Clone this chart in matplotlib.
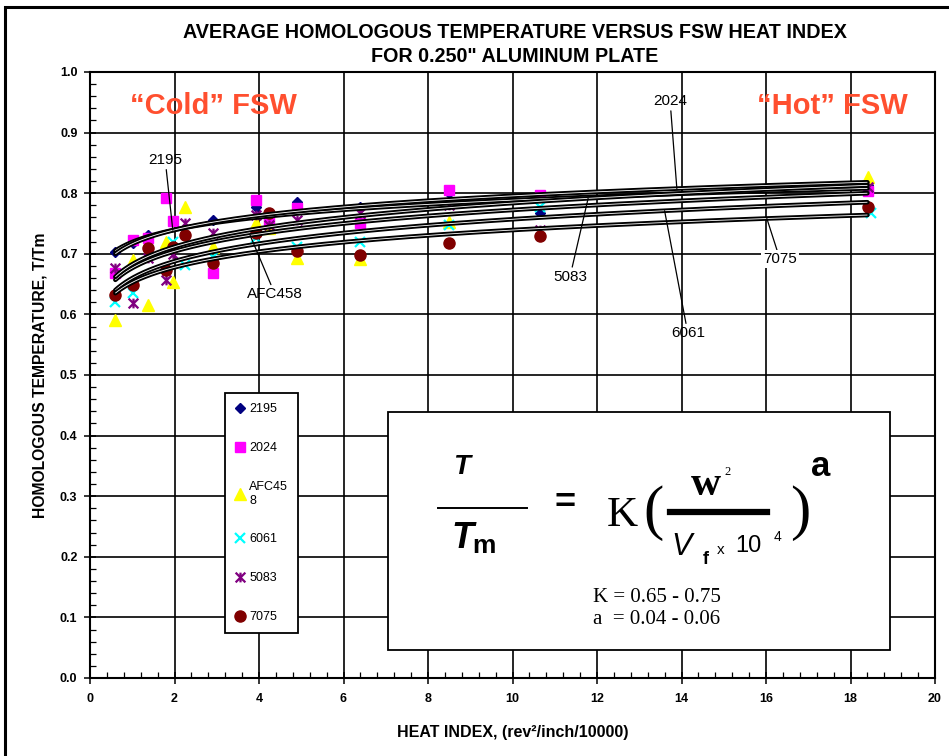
import numpy as np
import matplotlib.pyplot as plt
from matplotlib.lines import Line2D
from matplotlib.patches import Rectangle
from matplotlib.path import Path
from matplotlib.ticker import MultipleLocator

plt.rcParams['font.family'] = ['Liberation Sans', 'DejaVu Sans']

# Alloys and legend text (the legend wraps "AFC458")
alloys = ["2195", "2024", "AFC458", "6061", "5083", "7075"]
legend_labels = ["2195", "2024", "AFC45\n8", "6061", "5083", "7075"]

# Heat index (rev^2/inch/10000) and homologous temperature T/Tm, per alloy
hi_2195 = [0.59, 1.02, 1.37, 2.91, 3.93, 4.90, 6.39, 8.50, 10.65, 18.41]
tt_2195 = [0.703, 0.718, 0.731, 0.756, 0.777, 0.785, 0.777, 0.800, 0.768, 0.813]

hi_2024 = [0.59, 1.02, 1.37, 1.80, 1.96, 2.91, 3.93, 4.24, 4.90, 6.39, 8.50, 10.65, 18.41]
tt_2024 = [0.668, 0.723, 0.726, 0.792, 0.754, 0.668, 0.789, 0.752, 0.776, 0.751, 0.805, 0.797, 0.804]

hi_afc458 = [0.59, 1.02, 1.37, 1.80, 1.96, 2.25, 2.91, 3.93, 4.24, 4.90, 6.39, 8.50, 18.41]
tt_afc458 = [0.591, 0.690, 0.615, 0.720, 0.653, 0.778, 0.711, 0.751, 0.742, 0.693, 0.691, 0.752, 0.827]

hi_6061 = [0.59, 1.02, 1.96, 2.25, 2.91, 3.93, 4.90, 6.39, 8.50, 10.65, 18.48]
tt_6061 = [0.621, 0.635, 0.720, 0.681, 0.695, 0.726, 0.711, 0.720, 0.748, 0.777, 0.767]

hi_5083 = [0.59, 1.02, 1.37, 1.80, 1.96, 2.25, 2.91, 3.93, 4.24, 4.90, 6.39, 8.50, 10.65, 18.41]
tt_5083 = [0.677, 0.619, 0.693, 0.657, 0.700, 0.751, 0.734, 0.764, 0.748, 0.756, 0.767, 0.781, 0.739, 0.810]

hi_7075 = [0.59, 1.02, 1.37, 1.80, 1.96, 2.25, 2.91, 3.93, 4.24, 4.90, 6.39, 8.50, 10.65, 18.41]
tt_7075 = [0.632, 0.649, 0.710, 0.673, 0.711, 0.731, 0.685, 0.734, 0.767, 0.704, 0.698, 0.718, 0.729, 0.777]

heat_index = [hi_2195, hi_2024, hi_afc458, hi_6061, hi_5083, hi_7075]
homologous = [tt_2195, tt_2024, tt_afc458, tt_6061, tt_5083, tt_7075]

# Power trend lines T/Tm = K * HI^a
trend_k = [0.7195, 0.7165, 0.6766, 0.6598, 0.6826, 0.6528]
trend_a = [0.0398, 0.0455, 0.0575, 0.0597, 0.0600, 0.0540]
trend_start = 0.6
trend_end = 18.4

# Excel-like "star" marker: an X with a vertical bar
star = Path([(-1, -1), (1, 1), (-1, 1), (1, -1), (0, -1), (0, 1)],
            [Path.MOVETO, Path.LINETO, Path.MOVETO, Path.LINETO, Path.MOVETO, Path.LINETO])

styles = [
    dict(marker="D", color="#000080", ms=5),
    dict(marker="s", color="#ff00ff", ms=7),
    dict(marker="^", color="#ffff00", ms=8),
    dict(marker="x", color="#00ffff", ms=7, mew=1.6),
    dict(marker=star, color="#800080", ms=7, mew=1.6),
    dict(marker="o", color="#800000", ms=8),
]

W, H = 949, 756


def fxy(px, py):
    """Pixel position in the picture -> figure fraction."""
    return px / W, 1 - py / H


fig = plt.figure(figsize=(W / 100, H / 100), dpi=100)
ax = fig.add_axes([90 / W, (H - 678) / H, 845 / W, 606 / H])

for hi, tt, st, lab in zip(heat_index, homologous, styles, legend_labels):
    ax.plot(hi, tt, ls="none", mec=st["color"], mfc=st["color"], label=lab, zorder=3,
            **{k: v for k, v in st.items() if k != "color"})

# trend curves drawn as hollow double lines
curve_x = np.geomspace(trend_start, trend_end, 300)
for k, a in zip(trend_k, trend_a):
    y = k * curve_x ** a
    ax.plot(curve_x, y, color="black", lw=3.3, solid_capstyle="round", zorder=4)
    ax.plot(curve_x, y, color="white", lw=0.6, solid_capstyle="butt", zorder=4)

ax.set_xlim(0, 20)
ax.set_ylim(0, 1.0)
ax.xaxis.set_major_locator(MultipleLocator(2))
ax.xaxis.set_minor_locator(MultipleLocator(0.4))
ax.yaxis.set_major_locator(MultipleLocator(0.1))
ax.yaxis.set_minor_locator(MultipleLocator(0.02))
ax.xaxis.set_major_formatter(plt.FuncFormatter(lambda v, p: f"{v:.0f}"))
ax.yaxis.set_major_formatter(plt.FuncFormatter(lambda v, p: f"{v:.1f}"))
ax.grid(which="major", color="black", lw=1.2, zorder=1)
ax.set_axisbelow(True)
for s in ax.spines.values():
    s.set_linewidth(1.5)
ax.tick_params(which="major", direction="inout", length=8, width=1.1, labelsize=9, pad=5)
ax.tick_params(axis="x", which="major", pad=7)
ax.tick_params(which="minor", direction="in", length=4, width=0.9)
for lbl in ax.get_xticklabels() + ax.get_yticklabels():
    lbl.set_fontweight("bold")

ax.set_xlabel("HEAT INDEX, (rev²/inch/10000)", fontsize=11.5, fontweight="bold", labelpad=14)
ax.set_ylabel("HOMOLOGOUS TEMPERATURE, T/Tm", fontsize=11.3, fontweight="bold", labelpad=9)

fig.text(*fxy(515, 32), "AVERAGE HOMOLOGOUS TEMPERATURE VERSUS FSW HEAT INDEX",
         ha="center", va="center", fontsize=14.2, fontweight="bold")
fig.text(*fxy(515, 57), 'FOR 0.250" ALUMINUM PLATE',
         ha="center", va="center", fontsize=14.2, fontweight="bold")

red = "#ff4f2f"
fig.text(*fxy(213, 106), "\u201cCold\u201d FSW", ha="center", va="center",
         fontsize=21, fontweight="bold", color=red)
fig.text(*fxy(832, 106), "\u201cHot\u201d FSW", ha="center", va="center",
         fontsize=21, fontweight="bold", color=red)

# curve labels with leader lines (text x, text y, x on the curve)
label_pos = {
    "2195": (1.78, 0.855, 1.96),
    "2024": (13.73, 0.952, 13.89),
    "AFC458": (4.38, 0.633, 3.79),
    "6061": (14.15, 0.569, 13.6),
    "5083": (11.36, 0.662, 11.79),
    "7075": (16.33, 0.691, 16.02),
}
for name, k, a in zip(alloys, trend_k, trend_a):
    tx, ty, cx = label_pos[name]
    bbox = dict(fc="white", ec="none", pad=1.5) if name == "7075" else None
    ax.annotate(name, xy=(cx, k * cx ** a), xytext=(tx, ty), ha="center", va="center",
                fontsize=11, bbox=bbox, zorder=6,
                arrowprops=dict(arrowstyle="-", lw=0.9, color="black", shrinkA=0, shrinkB=0))

leg = ax.legend(loc="upper left", bbox_to_anchor=((225 - 90) / 845, (678 - 393) / 606),
                borderaxespad=0, fontsize=9, labelspacing=2.15, handlelength=0.8,
                handletextpad=0.35, borderpad=0.8, fancybox=False, framealpha=1,
                edgecolor="black", numpoints=1)
leg.get_frame().set_linewidth(1.3)
leg.set_zorder(7)

# equation box
x0, y0 = fxy(388, 650)
x1, y1 = fxy(890, 412)
fig.add_artist(Rectangle((x0, y0), x1 - x0, y1 - y0, transform=fig.transFigure,
                         fc="white", ec="black", lw=1.3, zorder=2))


def eq_text(px, py, s, **kw):
    fig.text(*fxy(px, py), s, ha="center", va="center", zorder=3, **kw)


def eq_line(pxa, pxb, py, lw):
    xa, ya = fxy(pxa, py)
    xb, _ = fxy(pxb, py)
    fig.add_artist(Line2D([xa, xb], [ya, ya], transform=fig.transFigure,
                          color="black", lw=lw, zorder=3))


serif = ["Liberation Serif", "DejaVu Serif"]
eq_text(462, 467, "T", fontsize=20, fontweight="bold", style="italic")
eq_line(438, 527, 508, 1.4)
eq_text(462, 538, "T", fontsize=26, fontweight="bold", style="italic")
eq_text(484, 546, "m", fontsize=19, fontweight="bold")
eq_text(565, 503, "=", fontsize=26, fontweight="bold")
eq_text(622, 516, "K", fontsize=31, family=serif)
eq_text(653, 513, "(", fontsize=44, family=serif)
eq_text(706, 485, "w", fontsize=30, fontweight="bold", family=serif)
eq_text(728, 472, "2", fontsize=9, family=serif)
eq_line(670, 767, 512, 4.5)
eq_text(682, 547, "V", fontsize=22, style="italic")
eq_text(706, 559, "f", fontsize=13, fontweight="bold")
eq_text(721, 550, "x", fontsize=11)
eq_text(748, 546, "10", fontsize=17)
eq_text(777, 537, "4", fontsize=10)
eq_text(800, 513, ")", fontsize=44, family=serif)
eq_text(821, 466, "a", fontsize=25, fontweight="bold")
eq_text(657, 597, "K = 0.65 - 0.75", fontsize=15, family=serif)
eq_text(657, 620, "a  = 0.04 - 0.06", fontsize=15, family=serif)

# page frame around the chart (left and top edges visible)
fx, fy = fxy(5, 7)
fig.add_artist(Rectangle((fx, -1), 5, fy + 1, transform=fig.transFigure,
                         fill=False, ec="black", lw=2.2, zorder=1))

fig.savefig("out.png", dpi=100)
